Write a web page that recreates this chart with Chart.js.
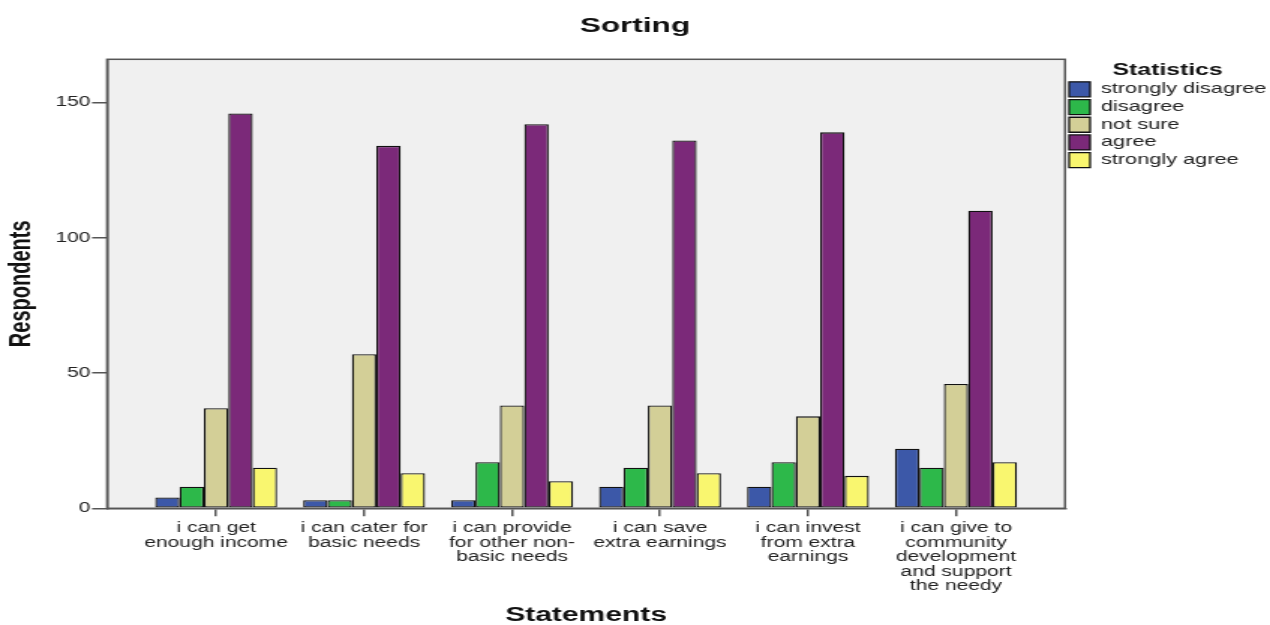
<!DOCTYPE html>
<html>
<head>
<meta charset="utf-8">
<title>Sorting</title>
<script src="https://cdn.jsdelivr.net/npm/chart.js@4/dist/chart.umd.min.js"></script>
<style>
  html, body { margin: 0; padding: 0; background: #ffffff; }
  #c { display: block; }
</style>
</head>
<body>
<!-- drawn at 847 px wide and shown 1270 px wide, giving the wide lettering of the statistics package export -->
<canvas id="c" width="847" height="625" style="width:1270px;height:625px"></canvas>
<script>
// Statements (multi-line tick labels)
const categories = [
  ["i can get", "enough income"],
  ["i can cater for", "basic needs"],
  ["i can provide", "for other non-", "basic needs"],
  ["i can save", "extra earnings"],
  ["i can invest", "from extra", "earnings"],
  ["i can give to", "community", "development", "and support", "the needy"]
];

// Responses per statement (210 respondents each)
const stronglyDisagree = [4, 3, 3, 8, 8, 22];
const disagree         = [8, 3, 17, 15, 17, 15];
const notSure          = [37, 57, 38, 38, 34, 46];
const agree            = [146, 134, 142, 136, 139, 110];
const stronglyAgree    = [15, 13, 10, 13, 12, 17];

const seriesNames = ["strongly disagree", "disagree", "not sure", "agree", "strongly agree"];
const yTicks = [0, 50, 100, 150];

const FONT = '"Liberation Sans", Arial, Helvetica, sans-serif';
const AXIS_GREY = '#555555';
const X_PAD = 0.737;      // empty space (in category units) beside first and last group
const Y_MAX = 166;

Chart.defaults.font.family = FONT;
Chart.defaults.color = '#222222';

// grey plot panel with a dark frame
const plotFrame = {
  id: 'plotFrame',
  beforeDraw(chart) {
    const { ctx, chartArea: a } = chart;
    ctx.save();
    ctx.fillStyle = '#f0f0f0';
    ctx.fillRect(a.left, a.top, a.right - a.left, a.bottom - a.top);
    ctx.restore();
  },
  afterDatasetsDraw(chart) {
    const { ctx, chartArea: a } = chart;
    ctx.save();
    ctx.strokeStyle = AXIS_GREY;
    ctx.lineWidth = 1.5;
    ctx.strokeRect(a.left, a.top, a.right - a.left, a.bottom - a.top);
    ctx.restore();
  }
};

function bar(label, data, color) {
  return {
    label, data,
    backgroundColor: color,
    borderColor: '#111111',
    borderWidth: 1.3,
    categoryPercentage: 0.824,
    barPercentage: 1.0,
    borderSkipped: false
  };
}

new Chart(document.getElementById('c'), {
  type: 'bar',
  data: {
    labels: categories.map((_, i) => i),
    datasets: [
      bar(seriesNames[0], stronglyDisagree, '#3c58a8'),
      bar(seriesNames[1], disagree,         '#2db84a'),
      bar(seriesNames[2], notSure,          '#d3cf97'),
      bar(seriesNames[3], agree,            '#7b2979'),
      bar(seriesNames[4], stronglyAgree,    '#f9f66f')
    ]
  },
  plugins: [plotFrame],
  options: {
    responsive: false,
    devicePixelRatio: 1,
    animation: false,
    layout: { padding: 0 },
    plugins: {
      title: {
        display: true,
        text: 'Sorting',
        color: '#111111',
        font: { size: 21, weight: 'bold', lineHeight: 1.2 },
        padding: { top: 14, bottom: 20.1 }
      },
      legend: {
        display: true,
        position: 'right',
        align: 'start',
        fullSize: false,
        maxWidth: 136.7,
        title: {
          display: true,
          text: 'Statistics',
          color: '#111111',
          font: { size: 16.5, weight: 'bold', lineHeight: 1.05 },
          padding: { top: 2.5, bottom: 0 }
        },
        labels: {
          boxWidth: 14,
          boxHeight: 15,
          padding: 2.7,
          color: '#222222',
          font: { size: 14.5 }
        }
      },
      tooltip: { enabled: false }
    },
    scales: {
      x: {
        type: 'linear',
        min: -X_PAD,
        max: categories.length - 1 + X_PAD,
        offset: false,
        afterFit(scale) { scale.height = 116.7; },
        grid: {
          display: true,
          offset: false,
          drawOnChartArea: false,
          drawTicks: true,
          tickLength: 8,
          color: AXIS_GREY,
          lineWidth: 1.5
        },
        border: { display: true, color: AXIS_GREY, width: 1.5 },
        ticks: {
          stepSize: 1,
          includeBounds: false,
          autoSkip: false,
          maxRotation: 0,
          minRotation: 0,
          padding: 5,
          color: '#222222',
          font: { size: 14, lineHeight: 1.03 },
          callback: (v) => categories[v] || ''
        },
        title: {
          display: true,
          text: 'Statements',
          color: '#111111',
          font: { size: 20, weight: 'bold', lineHeight: 1.0 },
          padding: { top: 0, bottom: 0 }
        }
      },
      y: {
        min: 0,
        max: Y_MAX,
        afterFit(scale) { scale.width = 71.4; },
        afterBuildTicks(scale) { scale.ticks = yTicks.map(v => ({ value: v })); },
        grid: {
          display: true,
          drawOnChartArea: false,
          drawTicks: true,
          tickLength: 10,
          color: AXIS_GREY,
          lineWidth: 1.5
        },
        border: { display: true, color: AXIS_GREY, width: 1.5 },
        ticks: {
          padding: 1,
          color: '#222222',
          font: { size: 14 }
        },
        title: {
          display: true,
          text: 'Respondents',
          color: '#111111',
          font: { size: 20, weight: 'bold', lineHeight: 1.0 },
          padding: { top: 4.5, bottom: 0 }
        }
      }
    }
  }
});
</script>
</body>
</html>
